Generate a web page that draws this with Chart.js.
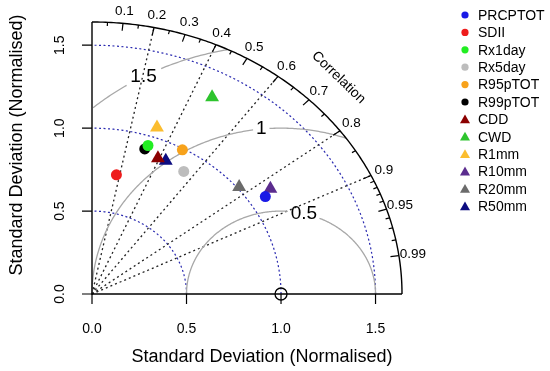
<!DOCTYPE html>
<html>
<head>
<meta charset="utf-8">
<script src="https://cdn.jsdelivr.net/npm/chart.js@4"></script>
<style>
  html, body { margin: 0; padding: 0; background: #fff; }
  #wrap { width: 550px; height: 371px; }
</style>
</head>
<body>
<div id="wrap"><canvas id="taylor" width="550" height="371"></canvas></div>
<script>
const names = ["PRCPTOT", "SDII", "Rx1day", "Rx5day", "R95pTOT", "R99pTOT",
               "CDD", "CWD", "R1mm", "R10mm", "R20mm", "R50mm"];
const stdDevs = [1.089, 0.730, 0.943, 0.884, 0.992, 0.918,
                 0.890, 1.346, 1.061, 1.137, 1.011, 0.893];
const correlations = [0.842, 0.177, 0.314, 0.549, 0.482, 0.304,
                      0.392, 0.472, 0.324, 0.830, 0.770, 0.437];
const colors = ["#1a1ae6", "#ee1c1c", "#22ee22", "#bdbdbd", "#f7a21b", "#000000",
                "#8b0000", "#2ec42e", "#fbbd2f", "#5b2c8e", "#6b6b6b", "#0c0c80"];
const markers = ["circle", "circle", "circle", "circle", "circle", "circle",
                 "triangle", "triangle", "triangle", "triangle", "triangle", "triangle"];

// Graduations
const maxSd = 1.64;
const sdTicks = [0, 0.5, 1, 1.5];
const sdTickLabels = ["0.0", "0.5", "1.0", "1.5"];
const corrTicks = [0.1, 0.2, 0.3, 0.4, 0.5, 0.6, 0.7, 0.8, 0.9, 0.95, 0.99];
const corrTickLabels = ["0.1", "0.2", "0.3", "0.4", "0.5", "0.6", "0.7", "0.8", "0.9", "0.95", "0.99"];
const corrMinorTicks = [0.05, 0.15, 0.25, 0.35, 0.45, 0.55, 0.65, 0.75, 0.85,
                        0.91, 0.92, 0.93, 0.94, 0.96, 0.97, 0.98];
const corrLines = [0.2, 0.4, 0.6, 0.8, 0.9];
const rmsLevels = [0.5, 1, 1.5];
const rmsLabels = ["0.5", "1", "1.5"];
const rmsLabelAngles = [76, 96, 119];
const rmsGaps = [10, 2.5, 4];

const FONT = "'Liberation Sans', Arial, sans-serif";

// Conversion écart-type / corrélation -> coordonnées
function toXY(sd, r) {
  return { x: sd * r, y: sd * Math.sqrt(1 - r * r) };
}

const datasets = names.map((n, i) => ({
  label: n,
  data: [toXY(stdDevs[i], correlations[i])],
  pointStyle: markers[i],
  pointRadius: markers[i] === "circle" ? 5.5 : 8,
  backgroundColor: colors[i],
  borderColor: colors[i],
  borderWidth: 0,
  clip: false
}));
// Point de référence
datasets.push({
  label: "ref",
  data: [toXY(1, 1)],
  pointStyle: "circle",
  pointRadius: 6,
  backgroundColor: "rgba(0,0,0,0)",
  borderColor: "#000",
  borderWidth: 1.3,
  clip: false
});

const taylorGrid = {
  id: "taylorGrid",
  beforeDraw(chart) {
    const ctx = chart.ctx;
    ctx.save();
    ctx.fillStyle = "#fff";
    ctx.fillRect(0, 0, chart.width, chart.height);
    ctx.restore();
  },
  beforeDatasetsDraw(chart) {
    const ctx = chart.ctx;
    const xs = chart.scales.x, ys = chart.scales.y;
    const px = v => xs.getPixelForValue(v);
    const py = v => ys.getPixelForValue(v);
    const rad = d => d * Math.PI / 180;

    function polyline(pts) {
      if (pts.length < 2) return;
      ctx.beginPath();
      ctx.moveTo(px(pts[0][0]), py(pts[0][1]));
      for (let k = 1; k < pts.length; k++) ctx.lineTo(px(pts[k][0]), py(pts[k][1]));
      ctx.stroke();
    }
    function arcPts(cx, r, a0, a1) {
      const pts = [];
      for (let a = a0; a <= a1 + 1e-9; a += 0.5) {
        const x = cx + r * Math.cos(rad(a)), y = r * Math.sin(rad(a));
        if (x >= 0 && x * x + y * y <= maxSd * maxSd + 1e-9) pts.push([x, y]);
      }
      return pts;
    }

    ctx.save();
    // cercles d'écart-type (bleu pointillé)
    ctx.strokeStyle = "#2a2ab0";
    ctx.lineWidth = 1.2;
    ctx.setLineDash([2, 2.5]);
    sdTicks.slice(1).forEach(s => polyline(arcPts(0, s, 0, 90)));

    // lignes de corrélation
    ctx.strokeStyle = "#222";
    ctx.lineWidth = 1.3;
    ctx.setLineDash([2, 3]);
    corrLines.forEach(c => {
      const s = Math.sqrt(1 - c * c);
      polyline([[0, 0], [maxSd * c, maxSd * s]]);
    });

    // arcs RMS (gris)
    ctx.setLineDash([]);
    ctx.strokeStyle = "#a8a8a8";
    ctx.lineWidth = 1.3;
    rmsLevels.forEach((r, i) => {
      polyline(arcPts(1, r, 0, rmsLabelAngles[i] - rmsGaps[i]));
      polyline(arcPts(1, r, rmsLabelAngles[i] + rmsGaps[i], 180));
    });

    // axes + arc extérieur
    ctx.strokeStyle = "#000";
    ctx.lineWidth = 1.4;
    polyline([[0, maxSd], [0, 0], [maxSd, 0]]);
    polyline(arcPts(0, maxSd, 0, 90));

    // graduations des axes
    ctx.lineWidth = 1.2;
    sdTicks.forEach(t => {
      ctx.beginPath();
      ctx.moveTo(px(t), py(0)); ctx.lineTo(px(t), py(0) + 10);
      ctx.moveTo(px(0), py(t)); ctx.lineTo(px(0) - 10, py(t));
      ctx.stroke();
    });

    // graduations de corrélation sur l'arc
    const tick = (c, len) => {
      const s = Math.sqrt(1 - c * c);
      polyline([[maxSd * c, maxSd * s], [(maxSd - len) * c, (maxSd - len) * s]]);
    };
    corrTicks.forEach(c => tick(c, 0.045));
    corrMinorTicks.forEach(c => tick(c, 0.022));
    ctx.restore();
  },
  afterDraw(chart) {
    const ctx = chart.ctx;
    const xs = chart.scales.x, ys = chart.scales.y;
    const px = v => xs.getPixelForValue(v);
    const py = v => ys.getPixelForValue(v);
    const rad = d => d * Math.PI / 180;

    ctx.save();
    ctx.fillStyle = "#000";
    ctx.textAlign = "center";
    ctx.textBaseline = "middle";

    // étiquettes des axes
    ctx.font = "14px " + FONT;
    sdTicks.forEach((t, i) => {
      ctx.fillText(sdTickLabels[i], px(t), 329);
      ctx.save();
      ctx.translate(60, py(t));
      ctx.rotate(-Math.PI / 2);
      ctx.fillText(sdTickLabels[i], 0, 0);
      ctx.restore();
    });

    // titres
    ctx.font = "18px " + FONT;
    ctx.fillText("Standard Deviation (Normalised)", 262, 357);
    ctx.save();
    ctx.translate(17, 145);
    ctx.rotate(-Math.PI / 2);
    ctx.fillText("Standard Deviation (Normalised)", 0, 0);
    ctx.restore();

    // étiquettes de corrélation
    ctx.font = "13.5px " + FONT;
    corrTicks.forEach((c, i) => {
      const s = Math.sqrt(1 - c * c);
      ctx.fillText(corrTickLabels[i], px(1.715 * c), py(1.715 * s));
    });
    ctx.save();
    ctx.translate(px(1.845 * Math.cos(rad(45))), py(1.845 * Math.sin(rad(45))));
    ctx.rotate(rad(44));
    ctx.font = "14px " + FONT;
    ctx.fillText("Correlation", 0, 0);
    ctx.restore();

    // étiquettes RMS
    ctx.font = "19px " + FONT;
    rmsLevels.forEach((r, i) => {
      const a = rad(rmsLabelAngles[i]);
      ctx.fillText(rmsLabels[i], px(1 + r * Math.cos(a)), py(r * Math.sin(a)));
    });

    // légende
    ctx.font = "14px " + FONT;
    ctx.textAlign = "left";
    names.forEach((n, i) => {
      const y = 15 + i * 17.4;
      ctx.fillStyle = colors[i];
      ctx.beginPath();
      if (markers[i] === "circle") {
        ctx.arc(465, y, 3.6, 0, Math.PI * 2);
      } else {
        ctx.moveTo(465, y - 5);
        ctx.lineTo(470, y + 3.8);
        ctx.lineTo(460, y + 3.8);
        ctx.closePath();
      }
      ctx.fill();
      ctx.fillStyle = "#000";
      ctx.fillText(n, 478, y + 1);
    });
    ctx.restore();
  }
};

new Chart(document.getElementById("taylor").getContext("2d"), {
  type: "scatter",
  data: { datasets: datasets },
  options: {
    responsive: false,
    animation: false,
    layout: { padding: { left: 92, right: 148, top: 22, bottom: 77 } },
    plugins: { legend: { display: false }, tooltip: { enabled: false } },
    scales: {
      x: { type: "linear", min: 0, max: maxSd, display: false },
      y: { type: "linear", min: 0, max: maxSd, display: false }
    }
  },
  plugins: [taylorGrid]
});
</script>
</body>
</html>
